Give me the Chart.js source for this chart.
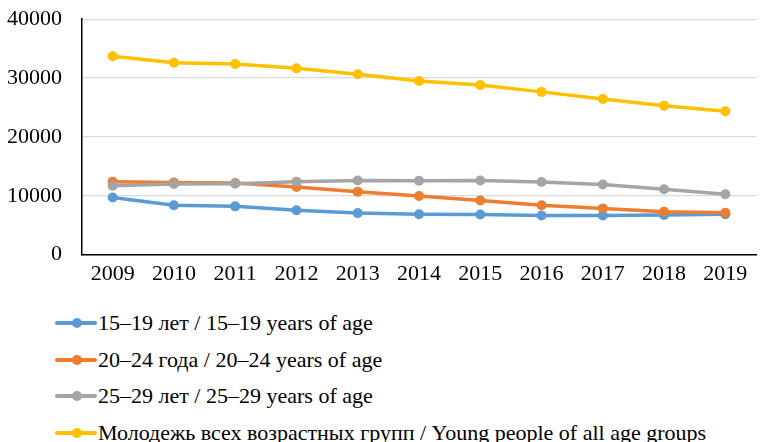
<!DOCTYPE html>
<html>
<head>
<meta charset="utf-8">
<script src="https://cdn.jsdelivr.net/npm/chart.js@4/dist/chart.umd.min.js"></script>
<style>
  body { margin: 0; background: #fff; overflow: hidden; }
  #wrap { position: relative; width: 761px; height: 442px; overflow: hidden; }
  #myChart { position: absolute; left: 0; top: -14px; }
  #legend { position: absolute; left: 55px; top: 305px; font-family: "Liberation Serif", serif; font-size: 22px; color: #000; }
  .item { height: 36.5px; display: flex; align-items: center; white-space: nowrap; }
  .mark { position: relative; width: 42px; height: 11px; flex: none; }
  .mark .ln { position: absolute; left: 0; top: 3.7px; width: 42px; height: 3.6px; border-radius: 2px; }
  .mark .dt { position: absolute; left: 16.5px; top: 0.5px; width: 10px; height: 10px; border-radius: 50%; }
  .txt { display: inline-block; margin-left: 1px; }
</style>
</head>
<body>
<div id="wrap">
  <canvas id="myChart" width="761" height="307"></canvas>
  <div id="legend"></div>
</div>
<script>
// Годы и значения по возрастным группам
const years = ['2009', '2010', '2011', '2012', '2013', '2014', '2015', '2016', '2017', '2018', '2019'];
const age15_19 = [9700, 8400, 8200, 7550, 7050, 6850, 6800, 6650, 6650, 6750, 6850];
const age20_24 = [12400, 12250, 12150, 11500, 10700, 9950, 9200, 8400, 7850, 7300, 7100];
const age25_29 = [11700, 12000, 12050, 12400, 12600, 12550, 12600, 12350, 11900, 11100, 10250];
const allAges = [33700, 32600, 32400, 31650, 30650, 29500, 28800, 27650, 26450, 25300, 24350];
const seriesLabels = [
  '15–19 лет / 15–19 years of age',
  '20–24 года / 20–24 years of age',
  '25–29 лет / 25–29 years of age',
  'Молодежь всех возрастных групп / Young people of all age groups'
];
const yTicks = [0, 10000, 20000, 30000, 40000];

const colors = ['#5b9bd5', '#ed7d31', '#a5a5a5', '#ffc000'];
const values = [age15_19, age20_24, age25_29, allAges];

const datasets = values.map((v, i) => ({
  label: seriesLabels[i],
  data: v,
  borderColor: colors[i],
  backgroundColor: colors[i],
  borderWidth: 3.5,
  pointRadius: 5,
  pointHoverRadius: 5,
  pointBorderWidth: 0,
  tension: 0,
  order: 3 - i // как в Excel: последняя серия сверху
}));

const font = { family: '"Liberation Serif", serif', size: 22 };

new Chart(document.getElementById('myChart').getContext('2d'), {
  type: 'line',
  data: { labels: years, datasets: datasets },
  options: {
    responsive: false,
    animation: false,
    layout: { padding: 0 },
    plugins: { legend: { display: false }, tooltip: { enabled: false } },
    scales: {
      x: {
        offset: true,
        grid: { display: false, drawTicks: false },
        border: { color: '#000', width: 1.5 },
        ticks: { color: '#000', font: font, padding: 6 }
      },
      y: {
        min: 0,
        max: 40000,
        afterBuildTicks: s => { s.ticks = yTicks.map(v => ({ value: v })); },
        afterFit: s => { s.width = 82; },
        grid: { color: '#d9d9d9', lineWidth: 1.3, drawTicks: false },
        border: { color: '#000', width: 1.5 },
        ticks: { color: '#000', font: font, padding: 20, callback: v => String(v) }
      }
    }
  }
});

// Легенда в столбик, как в оригинале
const legend = document.getElementById('legend');
seriesLabels.forEach((t, i) => {
  const row = document.createElement('div');
  row.className = 'item';
  row.innerHTML = '<span class="mark"><span class="ln" style="background:' + colors[i] + '"></span>' +
    '<span class="dt" style="background:' + colors[i] + '"></span></span><span class="txt"></span>';
  row.querySelector('.txt').textContent = t;
  legend.appendChild(row);
});
</script>
</body>
</html>
